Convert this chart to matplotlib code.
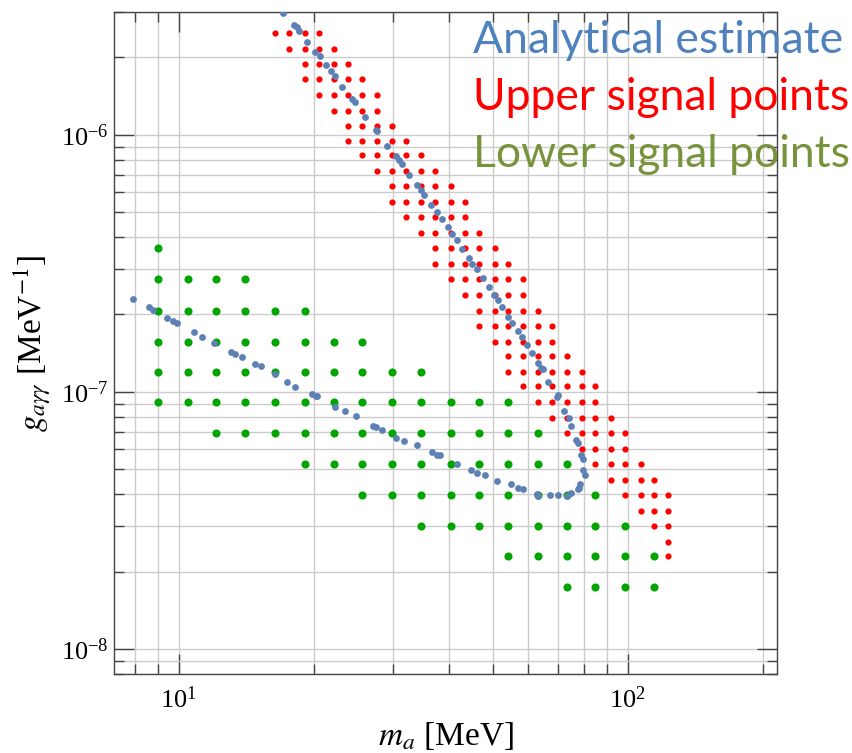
import matplotlib
matplotlib.use('Agg')
import matplotlib.pyplot as plt
from matplotlib.ticker import LogLocator, NullFormatter

plt.rcParams['font.family'] = ['Liberation Serif', 'DejaVu Serif']
plt.rcParams['mathtext.fontset'] = 'stix'

# analytical estimate (blue dots), lower branch -> turn -> upper branch
ana_m = [7.91, 8.58, 8.78, 9.43, 9.73, 9.90, 10.82, 11.25, 11.98, 13.08,
         13.35, 13.86, 14.77, 15.25, 16.36, 17.45, 18.16, 19.81, 20.22, 20.36,
         22.33, 23.46, 24.79, 27.05, 27.51, 28.37, 30.48, 31.70, 33.89, 36.60,
         37.65, 38.19, 41.62, 44.70, 46.24, 48.11, 51.25, 55.05, 56.89, 58.38,
         62.92, 63.04, 67.14, 69.95, 73.25, 74.65, 77.38, 78.02, 78.31, 80.33,
         79.51, 79.40, 78.70, 77.50, 76.72, 74.77, 73.90, 72.25, 70.05, 69.70,
         66.56, 64.86, 64.00, 63.04, 61.13, 59.57, 58.27, 56.89, 55.15, 54.21,
         52.48, 51.35, 50.38, 49.19, 47.69, 46.24, 45.07, 44.31, 42.68, 41.68,
         40.69, 39.73, 38.53, 37.55, 36.41, 35.24, 34.59, 33.89, 32.58, 31.39,
         30.95, 30.53, 29.06, 27.69, 27.47, 26.00, 24.70, 24.36, 23.10, 22.33,
         21.81, 21.28, 20.64, 20.12, 19.34, 18.56, 18.31, 18.09, 17.10]
ana_g = [2.29e-7, 2.13e-7, 2.08e-7, 1.93e-7, 1.88e-7, 1.85e-7, 1.71e-7, 1.64e-7, 1.55e-7, 1.43e-7,
         1.405e-7, 1.364e-7, 1.278e-7, 1.258e-7, 1.172e-7, 1.094e-7, 1.049e-7, 9.77e-8, 9.65e-8, 9.65e-8,
         8.74e-8, 8.39e-8, 8.05e-8, 7.40e-8, 7.31e-8, 7.12e-8, 6.63e-8, 6.45e-8, 6.19e-8, 5.83e-8,
         5.69e-8, 5.69e-8, 5.24e-8, 4.95e-8, 4.82e-8, 4.75e-8, 4.49e-8, 4.37e-8, 4.24e-8, 4.19e-8,
         3.99e-8, 3.92e-8, 3.96e-8, 3.96e-8, 3.94e-8, 4.03e-8, 4.18e-8, 4.24e-8, 4.37e-8, 4.76e-8,
         4.95e-8, 5.46e-8, 5.68e-8, 6.34e-8, 6.49e-8, 7.40e-8, 7.90e-8, 8.39e-8, 9.71e-8, 9.56e-8,
         1.094e-7, 1.222e-7, 1.240e-7, 1.296e-7, 1.422e-7, 1.528e-7, 1.636e-7, 1.732e-7, 1.854e-7, 1.956e-7,
         2.133e-7, 2.277e-7, 2.381e-7, 2.558e-7, 2.773e-7, 3.016e-7, 3.153e-7, 3.327e-7, 3.607e-7, 3.884e-7,
         4.125e-7, 4.391e-7, 4.699e-7, 4.99e-7, 5.33e-7, 5.81e-7, 6.11e-7, 6.39e-7, 6.95e-7, 7.72e-7,
         7.95e-7, 8.24e-7, 9.03e-7, 1.036e-6, 1.042e-6, 1.175e-6, 1.339e-6, 1.371e-6, 1.531e-6, 1.690e-6,
         1.762e-6, 1.864e-6, 2.020e-6, 2.107e-6, 2.290e-6, 2.526e-6, 2.618e-6, 2.676e-6, 2.979e-6]

# upper signal points (red): mass columns, coupling rows, first/last column used in each row
up_m = [16.4, 17.6, 19.1, 20.5, 22.2, 23.8, 25.6, 27.7, 29.8, 32.0,
        34.7, 37.3, 40.4, 43.4, 46.6, 50.5, 54.2, 58.3, 63.0, 67.8,
        73.4, 79.0, 84.7, 91.8, 98.8, 106.9, 114.6, 123.1]
up_g = [2.49e-6, 2.16e-6, 1.89e-6, 1.64e-6, 1.43e-6, 1.24e-6, 1.08e-6, 9.44e-7, 8.33e-7, 7.25e-7,
        6.32e-7, 5.49e-7, 4.77e-7, 4.16e-7, 3.62e-7, 3.15e-7, 2.74e-7, 2.38e-7, 2.07e-7, 1.80e-7,
        1.57e-7, 1.385e-7, 1.20e-7, 1.05e-7, 9.12e-8, 7.92e-8, 6.91e-8, 6.01e-8, 5.22e-8, 4.55e-8,
        3.96e-8, 3.45e-8, 3.00e-8, 2.61e-8, 2.30e-8]
up_span = [(0, 3), (1, 4), (2, 5), (2, 6), (3, 7), (4, 7), (5, 8), (5, 9), (6, 10), (7, 11),
           (8, 12), (8, 13), (9, 13), (10, 14), (11, 15), (11, 16), (12, 17), (13, 17), (14, 18), (14, 19),
           (15, 19), (16, 20), (16, 21), (17, 22), (18, 22), (19, 23), (20, 24), (21, 24), (22, 25), (23, 26),
           (24, 27), (25, 27), (26, 27), (27, 27), (27, 27)]

# lower signal points (green)
low_m = [9.01, 10.47, 12.09, 14.07, 16.4, 19.1, 22.2, 25.6, 29.8, 34.7,
         40.4, 46.6, 54.2, 63.0, 73.4, 84.7, 98.8, 114.6]
low_g = [3.62e-7, 2.74e-7, 2.07e-7, 1.57e-7, 1.20e-7, 9.12e-8, 6.91e-8, 5.22e-8, 3.96e-8, 3.00e-8,
         2.30e-8, 1.74e-8]
low_span = [(0, 0), (0, 3), (0, 5), (0, 7), (0, 9), (0, 12), (2, 13), (5, 14), (7, 15), (9, 16),
            (12, 17), (14, 17)]


def expand(ms, gs, spans):
    xs, ys = [], []
    for g, (a, b) in zip(gs, spans):
        for m in ms[a:b + 1]:
            xs.append(m)
            ys.append(g)
    return xs, ys


ux, uy = expand(up_m, up_g, up_span)
lx, ly = expand(low_m, low_g, low_span)

fig = plt.figure(figsize=(8.53, 7.53), dpi=100)
ax = fig.add_axes([0.134, 0.105, 0.777, 0.879])
ax.set_xscale('log')
ax.set_yscale('log')

ax.scatter(ux, uy, s=20, color='#ff0000', lw=0, zorder=3)
ax.scatter(lx, ly, s=34, color='#00a500', lw=0, zorder=3)
ax.scatter(ana_m, ana_g, s=24, color='#5e81b5', lw=0, zorder=4)

ax.set_xlim(7.19, 215)
ax.set_ylim(8e-9, 3e-6)

for axis in (ax.xaxis, ax.yaxis):
    axis.set_minor_locator(LogLocator(base=10, subs=range(2, 10), numticks=30))
    axis.set_minor_formatter(NullFormatter())

ax.grid(True, which='both', color='#cccccc', lw=1)
ax.set_axisbelow(True)
ax.tick_params(which='both', direction='in', top=True, right=True,
               color='#444444', labelsize=19, width=1)
ax.tick_params(which='major', length=14.4)
ax.tick_params(which='minor', length=7.2)
ax.tick_params(axis='x', pad=9)
ax.tick_params(axis='y', pad=4)
for sp in ax.spines.values():
    sp.set_color('#444444')
    sp.set_linewidth(1)

ax.set_xlabel(r'$m_a$ [MeV]', fontsize=24, labelpad=5)
ax.set_ylabel(r'$g_{a\gamma\gamma}$ [MeV$^{-1}$]', fontsize=24, labelpad=6)

legend_font = ['Lato', 'DejaVu Sans']
fig.text(0.5545, 0.9296, 'Analytical estimate', color='#4f81bd', fontsize=32,
         family=legend_font, va='baseline')
fig.text(0.5545, 0.8539, 'Upper signal points', color='#ff0000', fontsize=32,
         family=legend_font, va='baseline')
fig.text(0.5545, 0.7782, 'Lower signal points', color='#77933c', fontsize=32,
         family=legend_font, va='baseline')

fig.savefig('out.png', dpi=100)
